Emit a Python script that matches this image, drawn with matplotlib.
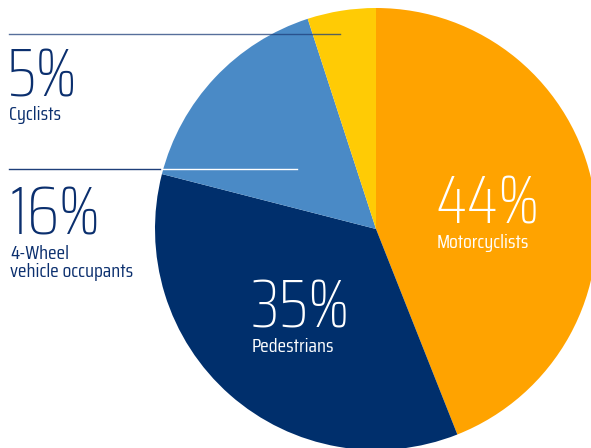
import matplotlib
matplotlib.use("Agg")
import matplotlib.pyplot as plt

# road deaths by user type (share in %), clockwise from the top
groups = ["Motorcyclists", "Pedestrians", "4-Wheel\nvehicle occupants", "Cyclists"]
shares = [44, 35, 16, 5]
colors = ["#FFA300", "#002F6C", "#4A8AC6", "#FFCB05"]

FONT = ["Saira Condensed", "DejaVu Sans"]
NAVY = "#0B2F6E"

fig = plt.figure(figsize=(5.91, 4.48), dpi=100)
ax = fig.add_axes([0, 0, 1, 1])

ax.pie(shares, colors=colors, startangle=90, counterclock=False,
       center=(376, 219), radius=221, frame=True,
       wedgeprops=dict(linewidth=0))
ax.set_xlim(0, 591)
ax.set_ylim(0, 448)
ax.axis("off")

# guide lines on the left
ax.plot([9, 340], [448 - 34, 448 - 34], color="#1F3F7A", lw=1, alpha=0.75)
ax.plot([9, 160], [448 - 169, 448 - 169], color="#1F3F7A", lw=1)
ax.plot([163, 297], [448 - 169, 448 - 169], color="white", lw=1)

big = dict(fontsize=49, fontweight="light", family=FONT, va="baseline", ha="left")
small = dict(fontsize=14.3, family=FONT, va="baseline", ha="left", linespacing=1.02)

# labels outside the pie
ax.text(7, 448 - 96, f"{shares[3]}%", color=NAVY, **big)
ax.text(9, 448 - 120, groups[3], color=NAVY, **small)
ax.text(9, 448 - 234, f"{shares[2]}%", color=NAVY, **big)
ax.text(10, 448 - 277, groups[2], color=NAVY, **small)

# labels inside the pie
ax.text(435, 448 - 223, f"{shares[0]}%", color="white", **big)
ax.text(437, 448 - 248, groups[0], color="white", **small)
ax.text(251, 448 - 327, f"{shares[1]}%", color="white", **big)
ax.text(252, 448 - 352, groups[1], color="white", **small)

fig.savefig("out.png", dpi=100)
